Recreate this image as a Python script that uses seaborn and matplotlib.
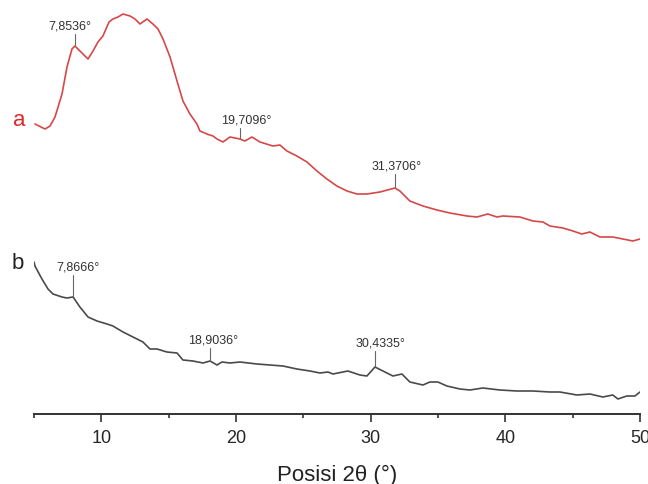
import numpy as np
import pandas as pd
import matplotlib
matplotlib.use("Agg")
import matplotlib.pyplot as plt
import seaborn as sns

# ---- data (2theta in degrees, intensity in arbitrary units) ----
a_theta = [5.07, 5.82, 6.19, 6.56, 7.08, 7.45, 7.82, 8.04, 8.41, 9.01, 9.38, 9.75,
           10.12, 10.57, 10.86, 11.24, 11.61, 12.13, 12.50, 12.87, 13.39, 13.83, 14.21,
           14.58, 15.10, 15.62, 16.06, 16.58, 17.10, 17.32, 17.84, 18.29, 18.59, 19.03,
           19.55, 20.29, 20.66, 21.18, 21.78, 22.74, 23.26, 23.78, 24.52, 25.27, 26.01,
           26.75, 27.49, 28.24, 28.98, 29.72, 30.69, 31.80, 32.17, 32.91, 33.88, 34.92,
           35.88, 37.15, 37.89, 38.70, 39.37, 39.82, 41.08, 42.05, 42.79, 43.31, 44.27,
           45.02, 45.68, 46.28, 47.02, 47.98, 48.73, 49.47, 50.00]
a_int = [290, 285, 288, 297, 320, 347, 365, 368, 363, 355, 363, 372,
         378, 392, 395, 397, 400, 398, 395, 390, 395, 390, 385,
         375, 357, 333, 313, 300, 290, 283, 280, 278, 275, 272,
         277, 275, 273, 277, 272, 268, 269, 263, 258, 252, 243,
         235, 228, 223, 220, 220, 222, 226, 223, 213, 208, 204,
         201, 198, 197, 200, 197, 198, 197, 193, 192, 188, 186,
         183, 180, 182, 177, 177, 175, 173, 175]

b_theta = [5.00, 5.07, 5.59, 6.04, 6.41, 7.08, 7.45, 7.90, 8.41, 9.01, 9.68, 10.42,
           10.86, 11.61, 12.35, 13.09, 13.61, 14.13, 14.87, 15.62, 16.06, 16.80, 17.55,
           18.07, 18.59, 18.96, 19.55, 20.29, 21.56, 22.52, 23.49, 24.52, 25.49, 26.23,
           26.83, 27.20, 28.31, 29.20, 29.72, 30.32, 30.91, 31.65, 32.32, 32.91, 33.88,
           34.40, 34.99, 35.66, 36.63, 37.37, 38.33, 39.60, 40.86, 42.05, 43.31, 44.05,
           45.31, 46.28, 47.24, 47.98, 48.36, 49.02, 49.62, 50.00]
b_int = [152, 148, 135, 125, 120, 117, 116, 117, 107, 97, 93, 90,
         88, 82, 77, 72, 65, 65, 62, 61, 54, 53, 51,
         53, 49, 52, 51, 52, 50, 49, 48, 45, 43, 41,
         42, 40, 43, 39, 38, 47, 43, 38, 40, 32, 29,
         32, 32, 28, 25, 24, 26, 24, 23, 23, 22, 22,
         19, 20, 17, 19, 15, 18, 18, 22]

a_peaks = [8.04, 20.29, 31.80]
a_peak_labels = ["7,8536°", "19,7096°", "31,3706°"]
b_peaks = [7.90, 18.07, 30.32]
b_peak_labels = ["7,8666°", "18,9036°", "30,4335°"]

x_major = [10, 20, 30, 40, 50]
x_minor = [5, 15, 25, 35, 45]
x_label = "Posisi 2θ (°)"

# ---- style ----
sns.set_style("white")
plt.rcParams["font.family"] = ["Liberation Sans", "DejaVu Sans"]

red = "#d64848"
dark = "#4a4a4a"

df = pd.concat([
    pd.DataFrame({"theta": a_theta, "intensity": a_int, "sample": "a"}),
    pd.DataFrame({"theta": b_theta, "intensity": b_int, "sample": "b"}),
])

fig = plt.figure(figsize=(6.48, 4.85), dpi=100)
ax = fig.add_axes([34 / 648, 70 / 485, 606 / 648, 415 / 485])

sns.lineplot(data=df, x="theta", y="intensity", hue="sample",
             palette={"a": red, "b": dark}, linewidth=1.2, legend=False,
             sort=False, estimator=None, ax=ax)

ax.set_xlim(5, 50)
ax.set_ylim(0, 415)

# peak markers
def mark(peaks, labels, theta, inten, line_len, text_dx):
    for p, lab, L, dx in zip(peaks, labels, line_len, text_dx):
        y0 = np.interp(p, theta, inten) + 1
        ax.plot([p, p], [y0, y0 + L], color="#666666", lw=0.8)
        ax.text(p + dx, y0 + L + 2, lab, ha="center", va="bottom",
                fontsize=9, color="#333333")

mark(a_peaks, a_peak_labels, a_theta, a_int, [11, 10, 13], [-0.35, 0.5, 0.1])
mark(b_peaks, b_peak_labels, b_theta, b_int, [21, 12, 15], [0.37, 0.22, 0.42])

# sample labels
ax.text(-0.024, 0.71, "a", transform=ax.transAxes, color="#e02828",
        fontsize=16, ha="center", va="center")
ax.text(-0.026, 0.365, "b", transform=ax.transAxes, color="#222222",
        fontsize=16, ha="center", va="center")

# axes styling
sns.despine(ax=ax, left=True, top=True, right=True)
ax.spines["bottom"].set_linewidth(1.4)
ax.spines["bottom"].set_color("#333333")
ax.set_yticks([])
ax.set_ylabel("")
ax.set_xticks(x_major)
ax.set_xticks(x_minor, minor=True)
ax.tick_params(axis="x", which="major", direction="out", length=6, width=1.2,
               color="#333333", labelsize=13, pad=5, bottom=True)
ax.tick_params(axis="x", which="minor", direction="out", length=3, width=1.2,
               color="#333333", bottom=True)
ax.set_xlabel(x_label, fontsize=16, labelpad=13, color="#222222")
ax.set_facecolor("none")

fig.savefig("out.png", dpi=100)
